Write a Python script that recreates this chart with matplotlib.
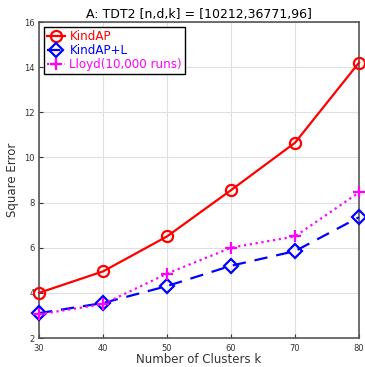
import matplotlib.pyplot as plt

k = [30, 40, 50, 60, 70, 80]
kindap = [4.0, 4.95, 6.5, 8.55, 10.65, 14.2]
kindap_l = [3.1, 3.55, 4.3, 5.2, 5.85, 7.35]
lloyd = [3.05, 3.5, 4.85, 6.0, 6.5, 8.45]

fig = plt.figure(figsize=(3.65, 3.67), dpi=100)
ax = fig.add_axes([39 / 365, 29 / 367, 320 / 365, 316 / 367])

ax.plot(k, kindap, '-o', color='red', lw=1.6, ms=8, mfc='none', mew=1.6,
        label='KindAP', clip_on=False, zorder=3)
ax.plot(k, kindap_l, '--D', color='blue', lw=1.6, ms=7, mfc='none', mew=1.6,
        dashes=(6, 4), label='KindAP+L', clip_on=False, zorder=3)
ax.plot(k, lloyd, ':+', color='magenta', lw=1.6, ms=9, mew=1.6,
        label='Lloyd(10,000 runs)', clip_on=False, zorder=3)

ax.set_xlim(30, 80)
ax.set_ylim(2, 16)
ax.set_xticks(k)
ax.set_yticks([2, 4, 6, 8, 10, 12, 14, 16])
ax.grid(True, color='#e0e0e0', lw=0.8)
ax.set_axisbelow(True)
for s in ax.spines.values():
    s.set_color('#555555')
    s.set_linewidth(1.2)
ax.tick_params(labelsize=6, colors='#333333', direction='in', length=3)
ax.tick_params(axis='x', pad=4)
ax.tick_params(axis='y', pad=3)

ax.set_title('A: TDT2 [n,d,k] = [10212,36771,96]', fontsize=9, pad=3)
ax.set_xlabel('Number of Clusters k', fontsize=8.5, color='#333333', labelpad=0)
ax.set_ylabel('Square Error', fontsize=8.5, color='#333333', labelpad=4)

leg = ax.legend(loc='upper left', fontsize=8.6, frameon=True, fancybox=False,
                borderpad=0.25, labelspacing=0.1, handlelength=1.5, handletextpad=0.4,
                borderaxespad=0.4)
leg.get_frame().set_edgecolor('black')
leg.get_frame().set_linewidth(1.0)
leg.get_frame().set_alpha(1)
for t, c in zip(leg.get_texts(), ['red', 'blue', 'magenta']):
    t.set_color(c)

fig.savefig('out.png', dpi=100)
